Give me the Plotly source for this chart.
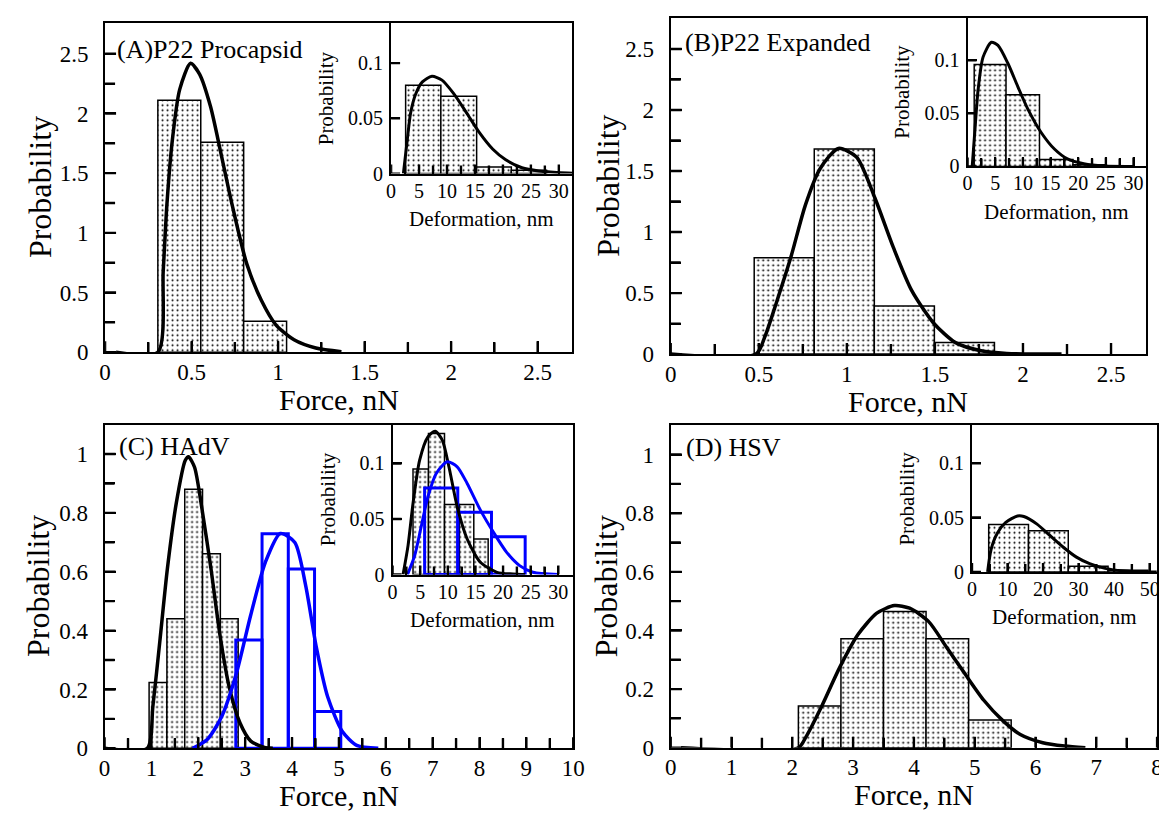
import plotly.graph_objects as go

W, H = 1167, 817
SERIF = "Liberation Serif"

# ---------------- DATA ----------------
# Panel A : P22 Procapsid (force histogram + fit)
a_edges = [0.305, 0.553, 0.801, 1.049]
a_heights = [2.11, 1.76, 0.26]
a_fit_x = [0.063, 0.305, 0.336, 0.357, 0.389, 0.431, 0.494, 0.546, 0.609, 0.672, 0.735, 0.819, 0.903, 0.987, 1.092, 1.218, 1.366]
a_fit_y = [0, 0, 0.68, 1.23, 1.78, 2.20, 2.42, 2.33, 2.06, 1.65, 1.23, 0.74, 0.435, 0.23, 0.105, 0.036, 0.005]
# Inset A : deformation
ia_edges = [2.6, 8.9, 15.3, 21.5, 27.8]
ia_heights = [0.080, 0.070, 0.006, 0.003]
ia_fit_x = [2.2, 2.9, 3.5, 4.4, 5.6, 7.3, 9.1, 11.1, 13.5, 15.8, 18.2, 20.5, 23.4, 26.4, 29.9, 32.5]
ia_fit_y = [0, 0.031, 0.055, 0.072, 0.083, 0.088, 0.0846, 0.073, 0.055, 0.037, 0.022, 0.0125, 0.0053, 0.0024, 0.001, 0.0003]

# Panel B : P22 Expanded
b_edges = [0.474, 0.815, 1.156, 1.497, 1.838]
b_heights = [0.79, 1.68, 0.395, 0.095]
b_fit_x = [0.0, 0.484, 0.536, 0.599, 0.682, 0.765, 0.848, 0.952, 1.056, 1.160, 1.264, 1.367, 1.492, 1.617, 1.762, 1.908, 2.219]
b_fit_y = [0, 0, 0.148, 0.417, 0.793, 1.223, 1.519, 1.685, 1.613, 1.277, 0.874, 0.524, 0.255, 0.094, 0.027, 0.005, 0]
ib_edges = [1.2, 6.95, 13.0, 19.05, 25.1]
ib_heights = [0.096, 0.0675, 0.0065, 0.0015]
ib_fit_x = [0.84, 1.3, 1.9, 2.8, 4.3, 5.5, 7.3, 9.1, 10.9, 13.3, 15.7, 18.05, 21.0, 24.6, 30]
ib_fit_y = [0, 0.032, 0.072, 0.103, 0.117, 0.114, 0.097, 0.075, 0.054, 0.032, 0.0164, 0.0071, 0.0025, 0.0003, 0]

# Panel C : HAdV (black = first, blue = second population)
c_black_edges = [0.95, 1.33, 1.71, 2.09, 2.47, 2.85]
c_black_heights = [0.224, 0.44, 0.88, 0.661, 0.44]
c_blue_edges = [2.80, 3.36, 3.92, 4.48, 5.04]
c_blue_heights = [0.368, 0.729, 0.609, 0.125]
c_black_fit_x = [0.0, 0.91, 1.03, 1.18, 1.34, 1.53, 1.72, 1.79, 1.92, 2.07, 2.27, 2.46, 2.66, 2.89, 3.12, 3.43, 3.59]
c_black_fit_y = [0, 0, 0.142, 0.365, 0.61, 0.833, 0.978, 0.991, 0.955, 0.822, 0.61, 0.387, 0.208, 0.086, 0.0245, 0.002, 0]
c_blue_fit_x = [1.88, 2.19, 2.50, 2.81, 3.12, 3.43, 3.75, 4.06, 4.29, 4.52, 4.76, 5.07, 5.38, 5.84]
c_blue_fit_y = [0, 0.03, 0.108, 0.253, 0.454, 0.632, 0.73, 0.699, 0.554, 0.342, 0.175, 0.058, 0.010, 0]
ic_black_edges = [3.7, 6.5, 9.4, 12.1, 14.7, 17.3]
ic_black_heights = [0.095, 0.127, 0.063, 0.063, 0.032]
ic_blue_edges = [5.8, 11.8, 17.9, 24.0]
ic_blue_heights = [0.078, 0.056, 0.034]
ic_black_fit_x = [1.9, 2.8, 3.7, 4.9, 6.4, 7.7, 9.0, 10.2, 11.7, 13.5, 15.9, 18.9, 21.8, 24.0]
ic_black_fit_y = [0, 0.026, 0.064, 0.103, 0.124, 0.129, 0.121, 0.097, 0.061, 0.032, 0.011, 0.002, 0.0005, 0]
ic_blue_fit_x = [2.7, 4.0, 5.2, 6.4, 7.9, 9.9, 11.7, 13.5, 15.9, 18.3, 20.65, 23.0, 25.4, 30]
ic_blue_fit_y = [0, 0.017, 0.0436, 0.070, 0.091, 0.1015, 0.097, 0.082, 0.058, 0.0377, 0.020, 0.008, 0.002, 0]

# Panel D : HSV
d_edges = [2.10, 2.80, 3.50, 4.20, 4.90, 5.60]
d_heights = [0.142, 0.372, 0.465, 0.372, 0.095]
d_fit_x = [0.17, 2.10, 2.23, 2.48, 2.78, 3.08, 3.39, 3.68, 3.93, 4.24, 4.54, 4.84, 5.15, 5.45, 5.75, 6.12, 6.48, 6.82]
d_fit_y = [0, 0, 0.039, 0.14, 0.274, 0.386, 0.459, 0.485, 0.476, 0.431, 0.342, 0.252, 0.162, 0.095, 0.045, 0.017, 0.0056, 0]
id_edges = [4.7, 15.9, 27.1, 38.3, 49.5]
id_heights = [0.0437, 0.0378, 0.0052, 0.0015]
id_fit_x = [4.4, 5.4, 7.2, 9.5, 12.8, 14.6, 18.3, 22.0, 25.7, 29.4, 33.1, 37.8, 42.4, 49.8, 52]
id_fit_y = [0, 0.021, 0.036, 0.0455, 0.0515, 0.051, 0.044, 0.0333, 0.0227, 0.0136, 0.0076, 0.003, 0.001, 0, 0]

# Tick values / labels
ab_x_ticks = [0, 0.5, 1, 1.5, 2, 2.5]
ab_x_labels = ["0", "0.5", "1", "1.5", "2", "2.5"]
ab_y_ticks = [0, 0.5, 1, 1.5, 2, 2.5]
ab_y_labels = ["0", "0.5", "1", "1.5", "2", "2.5"]
c_x_ticks = list(range(0, 11))
c_x_labels = [str(v) for v in c_x_ticks]
d_x_ticks = list(range(0, 9))
d_x_labels = [str(v) for v in d_x_ticks]
cd_y_ticks = [0, 0.2, 0.4, 0.6, 0.8, 1]
cd_y_labels = ["0", "0.2", "0.4", "0.6", "0.8", "1"]
ins_x_ticks = [0, 5, 10, 15, 20, 25, 30]
ins_x_labels = ["0", "5", "10", "15", "20", "25", "30"]
insd_x_ticks = [0, 10, 20, 30, 40, 50]
insd_x_labels = ["0", "10", "20", "30", "40", "50"]
ins_y_ticks = [0, 0.05, 0.1]
ins_y_labels = ["0", "0.05", "0.1"]

# minor tick positions
ab_minor = [0.25, 0.75, 1.25, 1.75, 2.25]
c_x_minor = [0.5, 1.5, 2.5, 3.5, 4.5, 5.5, 6.5, 7.5, 8.5, 9.5]
d_x_minor = [0.5, 1.5, 2.5, 3.5, 4.5, 5.5, 6.5, 7.5]
cd_y_minor = [0.1, 0.3, 0.5, 0.7, 0.9]
ins_x_minor = [2.5, 7.5, 12.5, 17.5, 22.5, 27.5]
insd_x_minor = [5, 15, 25, 35, 45]

panel_labels = ["(A)P22 Procapsid", "(B)P22 Expanded", "(C) HAdV", "(D) HSV"]

# ---------------- FIGURE ----------------
fig = go.Figure()


def px_x(x):
    return x / W


def px_y(y):
    return 1 - y / H


def hist(edges, heights, xa, ya, blue=False):
    centers = [(edges[i] + edges[i + 1]) / 2 for i in range(len(heights))]
    widths = [edges[i + 1] - edges[i] for i in range(len(heights))]
    if blue:
        marker = dict(color="rgba(0,0,0,0)", line=dict(color="#0000ff", width=3))
    else:
        marker = dict(color="white", line=dict(color="black", width=1.5),
                      pattern=dict(shape=".", fgcolor="black", bgcolor="white",
                                   size=5, solidity=0.13, fillmode="replace"))
    fig.add_trace(go.Bar(x=centers, y=heights, width=widths, marker=marker,
                         xaxis=xa, yaxis=ya, showlegend=False, hoverinfo="skip"))


def curve(xs, ys, xa, ya, color="black", width=3.5):
    fig.add_trace(go.Scatter(x=xs, y=ys, mode="lines", xaxis=xa, yaxis=ya,
                             line=dict(color=color, width=width, shape="spline", smoothing=0.7),
                             showlegend=False, hoverinfo="skip"))


# Panel A
hist(a_edges, a_heights, "x", "y")
curve(a_fit_x, a_fit_y, "x", "y")
hist(ia_edges, ia_heights, "x2", "y2")
curve(ia_fit_x, ia_fit_y, "x2", "y2", width=3)
# Panel B
hist(b_edges, b_heights, "x3", "y3")
curve(b_fit_x, b_fit_y, "x3", "y3")
hist(ib_edges, ib_heights, "x4", "y4")
curve(ib_fit_x, ib_fit_y, "x4", "y4", width=3)
# Panel C
hist(c_black_edges, c_black_heights, "x5", "y5")
hist(c_blue_edges, c_blue_heights, "x5", "y5", blue=True)
curve(c_black_fit_x, c_black_fit_y, "x5", "y5")
curve(c_blue_fit_x, c_blue_fit_y, "x5", "y5", color="#0000ff")
hist(ic_black_edges, ic_black_heights, "x6", "y6")
hist(ic_blue_edges, ic_blue_heights, "x6", "y6", blue=True)
curve(ic_black_fit_x, ic_black_fit_y, "x6", "y6", width=3)
curve(ic_blue_fit_x, ic_blue_fit_y, "x6", "y6", color="#0000ff", width=3)
# Panel D
hist(d_edges, d_heights, "x7", "y7")
curve(d_fit_x, d_fit_y, "x7", "y7")
hist(id_edges, id_heights, "x8", "y8")
curve(id_fit_x, id_fit_y, "x8", "y8", width=3)


def axis(dom, rng, tv, tt, minor_vals, anchor, fsize, standoff, ticklen):
    d = dict(domain=dom, range=rng, tickmode="array", tickvals=tv, ticktext=tt,
             ticks="inside", ticklen=ticklen, tickwidth=2.4, tickcolor="#000000",
             showline=True, linewidth=2, linecolor="black", mirror=True,
             showgrid=False, zeroline=False, fixedrange=True, anchor=anchor,
             tickfont=dict(family=SERIF, size=fsize, color="black"),
             ticklabelstandoff=standoff, layer="above traces")
    if minor_vals:
        d["minor"] = dict(ticks="inside", ticklen=ticklen - 1, tickwidth=2.4,
                          tickcolor="#000000", tickmode="array", tickvals=minor_vals)
    return d


# pixel boxes (left, top, right, bottom)
boxes = {
    "A": (92.5, 15, 567, 349.8),
    "iA": (383, 15, 567, 168.3),
    "B": (667, 10, 1150, 351.7),
    "iB": (968.5, 10, 1150, 161),
    "C": (92, 423.3, 568, 752.3),
    "iC": (384.5, 423.3, 568, 575.7),
    "D": (667, 424, 1161, 751.7),
    "iD": (973, 424, 1161, 573),
}


def xdom(k):
    l, t, r, b = boxes[k]
    return [px_x(l), px_x(r)]


def ydom(k):
    l, t, r, b = boxes[k]
    return [px_y(b), px_y(t)]


MF, IF = 23, 20
XS, YS, IYS = -2, 10, 2
ML, IL = 11, 9
fig.update_layout(
    xaxis=axis(xdom("A"), [0, 2.7], ab_x_ticks, ab_x_labels, ab_minor, "y", MF, XS, ML),
    yaxis=axis(ydom("A"), [0, 2.76], ab_y_ticks, ab_y_labels, ab_minor, "x", MF, YS, ML),
    xaxis2=axis(xdom("iA"), [0, 32.4], ins_x_ticks, ins_x_labels, ins_x_minor, "y2", IF, XS, IL),
    yaxis2=axis(ydom("iA"), [0, 0.1365], ins_y_ticks, ins_y_labels, None, "x2", IF, IYS, IL),
    xaxis3=axis(xdom("B"), [0, 2.7], ab_x_ticks, ab_x_labels, ab_minor, "y3", MF, XS, ML),
    yaxis3=axis(ydom("B"), [0, 2.755], ab_y_ticks, ab_y_labels, ab_minor, "x3", MF, YS, ML),
    xaxis4=axis(xdom("iB"), [0, 32.3], ins_x_ticks, ins_x_labels, ins_x_minor, "y4", IF, XS, IL),
    yaxis4=axis(ydom("iB"), [0, 0.14], ins_y_ticks, ins_y_labels, None, "x4", IF, IYS, IL),
    xaxis5=axis(xdom("C"), [0, 10], c_x_ticks, c_x_labels, c_x_minor, "y5", MF, XS, ML),
    yaxis5=axis(ydom("C"), [0, 1.1], cd_y_ticks, cd_y_labels, cd_y_minor, "x5", MF, YS, ML),
    xaxis6=axis(xdom("iC"), [0, 32.7], ins_x_ticks, ins_x_labels, ins_x_minor, "y6", IF, XS, IL),
    yaxis6=axis(ydom("iC"), [0, 0.135], ins_y_ticks, ins_y_labels, None, "x6", IF, IYS, IL),
    xaxis7=axis(xdom("D"), [0, 8], d_x_ticks, d_x_labels, d_x_minor, "y7", MF, XS, ML),
    yaxis7=axis(ydom("D"), [0, 1.1], cd_y_ticks, cd_y_labels, cd_y_minor, "x7", MF, YS, ML),
    xaxis8=axis(xdom("iD"), [0, 52.1], insd_x_ticks, insd_x_labels, insd_x_minor, "y8", IF, XS, IL),
    yaxis8=axis(ydom("iD"), [0, 0.135], ins_y_ticks, ins_y_labels, None, "x8", IF, IYS, IL),
)

# extra inward tick marks drawn as shapes on the axes' own scales (pixel lengths)
shapes = []


def ticks(xa, ya, xmaj, xmin, ymaj, ymin, lmaj, lmin):
    for vals, L in ((xmaj, lmaj), (xmin or [], lmin)):
        for v in vals:
            shapes.append(dict(type="line", xref=xa, yref=ya, x0=v, x1=v,
                               ysizemode="pixel", yanchor=0, y0=0, y1=L,
                               line=dict(color="#000000", width=2.4), layer="above"))
    for vals, L in ((ymaj, lmaj), (ymin or [], lmin)):
        for v in vals:
            shapes.append(dict(type="line", xref=xa, yref=ya, y0=v, y1=v,
                               xsizemode="pixel", xanchor=0, x0=0, x1=L,
                               line=dict(color="#000000", width=2.4), layer="above"))


ticks("x", "y", ab_x_ticks, ab_minor, ab_y_ticks, ab_minor, ML, ML - 1)
ticks("x2", "y2", ins_x_ticks, ins_x_minor, ins_y_ticks, None, IL, IL - 1)
ticks("x3", "y3", ab_x_ticks, ab_minor, ab_y_ticks, ab_minor, ML, ML - 1)
ticks("x4", "y4", ins_x_ticks, ins_x_minor, ins_y_ticks, None, IL, IL - 1)
ticks("x5", "y5", c_x_ticks, c_x_minor, cd_y_ticks, cd_y_minor, ML, ML - 1)
ticks("x6", "y6", ins_x_ticks, ins_x_minor, ins_y_ticks, None, IL, IL - 1)
ticks("x7", "y7", d_x_ticks, d_x_minor, cd_y_ticks, cd_y_minor, ML, ML - 1)
ticks("x8", "y8", insd_x_ticks, insd_x_minor, ins_y_ticks, None, IL, IL - 1)

annotations = []


def text(s, x, y, size, angle=0, xanchor="center"):
    annotations.append(dict(text=s, x=px_x(x), y=px_y(y), xref="paper", yref="paper",
                            showarrow=False, textangle=angle, xanchor=xanchor, yanchor="middle",
                            borderpad=0, font=dict(family=SERIF, size=size, color="black")))


# main axis titles
for k, yx in (("A", 27), ("B", 603), ("C", 25), ("D", 602)):
    l, t, r, b = boxes[k]
    text("Probability", yx, (t + b) / 2, 32, angle=-90)
    text("Force, nN", (l + r) / 2, b + 48, 30)
# inset axis titles
for k in ("iA", "iB", "iC", "iD"):
    l, t, r, b = boxes[k]
    text("Probability", l - 66, (t + b) / 2, 21, angle=-90)
    text("Deformation, nm", (l + r) / 2, b + 46, 21)
# panel labels
for lab, (x, y) in zip(panel_labels, ((104, 42), (681, 35), (106, 446), (682, 447))):
    text(lab, x, y, 26, xanchor="left")

fig.update_layout(
    annotations=annotations,
    shapes=shapes,
    width=W, height=H,
    margin=dict(l=0, r=0, t=0, b=0),
    paper_bgcolor="white", plot_bgcolor="white",
    barmode="overlay", showlegend=False,
)

fig.write_html("out.html")
